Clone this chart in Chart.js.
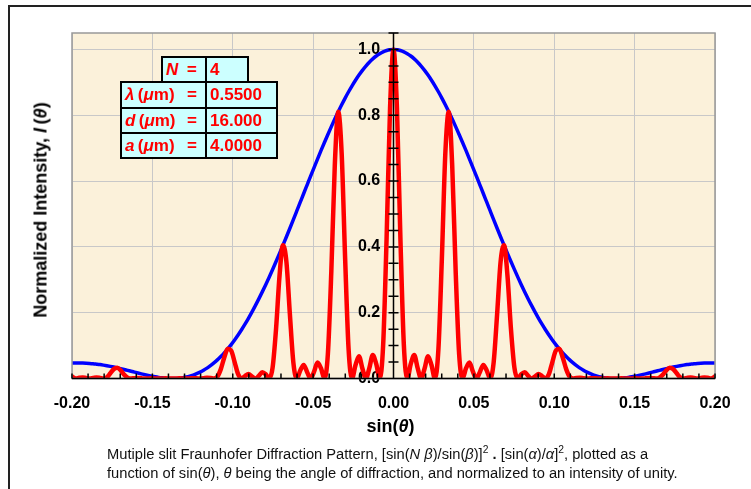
<!DOCTYPE html>
<html>
<head>
<meta charset="utf-8">
<script src="https://cdn.jsdelivr.net/npm/chart.js@4.4.1/dist/chart.umd.min.js"></script>
<style>
  body { margin: 0; background: #fff; }
  #wrap { position: relative; width: 751px; height: 489px; overflow: hidden; font-family: Arial, "Liberation Sans", sans-serif; }
  #frame { position: absolute; left: 8px; top: 5px; width: 800px; height: 600px; border-left: 2px solid #222; border-top: 2px solid #222; }
  canvas { position: absolute; left: 0; top: 0; }
  .cell { position: absolute; box-sizing: border-box; border: 2px solid #000; background: #ccffff; color: #ff0000; font-weight: bold; font-size: 17px; padding-left: 3px; white-space: nowrap; }
  .lbl { display: flex; justify-content: space-between; padding-right: 8px; }
  .ytitle { position: absolute; left: 41px; top: 210px; transform: translate(-50%, -50%) rotate(-90deg); white-space: nowrap; font-weight: bold; font-size: 18px; color: #000; }
  .xtitle { position: absolute; left: 340px; width: 101px; top: 416px; line-height: 20px; text-align: center; font-weight: bold; font-size: 18px; color: #000; }
  .caption { position: absolute; left: 107px; top: 445px; font-size: 14.7px; line-height: 19px; color: #111; white-space: nowrap; }
  sup { font-size: 0.7em; line-height: 0; vertical-align: super; }
</style>
</head>
<body>
<div id="wrap">
  <div id="frame"></div>
  <canvas id="diffractionChart" width="751" height="489"></canvas>

  <div class="cell lbl" style="left:161px; top:56px; width:46px; height:27px; line-height:23px;"><span><i>N</i></span><span>=</span></div>
  <div class="cell" style="left:205px; top:56px; width:44px; height:27px; line-height:23px;">4</div>
  <div class="cell lbl" style="left:120px; top:81px; width:87px; height:28px; line-height:24px;"><span><i>λ</i>&thinsp;(<i>μ</i>m)</span><span>=</span></div>
  <div class="cell" style="left:205px; top:81px; width:73px; height:28px; line-height:24px;">0.5500</div>
  <div class="cell lbl" style="left:120px; top:107px; width:87px; height:27px; line-height:23px;"><span><i>d</i>&thinsp;(<i>μ</i>m)</span><span>=</span></div>
  <div class="cell" style="left:205px; top:107px; width:73px; height:27px; line-height:23px;">16.000</div>
  <div class="cell lbl" style="left:120px; top:132px; width:87px; height:27px; line-height:23px;"><span><i>a</i>&thinsp;(<i>μ</i>m)</span><span>=</span></div>
  <div class="cell" style="left:205px; top:132px; width:73px; height:27px; line-height:23px;">4.0000</div>

  <div class="ytitle">Normalized Intensity, <i>I</i>&thinsp;(<i>θ</i>)</div>
  <div class="xtitle">sin(<i>θ</i>)</div>
  <div class="caption">Mutiple slit Fraunhofer Diffraction Pattern, [sin(<i>N β</i>)/sin(<i>β</i>)]<sup>2</sup> <b>.</b> [sin(<i>α</i>)/<i>α</i>]<sup>2</sup>, plotted as a<br>function of sin(<i>θ</i>), <i>θ</i> being the angle of diffraction, and normalized to an intensity of unity.</div>
</div>

<script>
// sin(theta) sample positions
const sinTheta = [
  -0.2,
  -0.19766, -0.19551, -0.19336, -0.19121, -0.18906,
  -0.18691, -0.18477, -0.18262, -0.18047, -0.17832, -0.17617, -0.17402, -0.17188,
  -0.16973, -0.16758, -0.16543, -0.16328, -0.16113, -0.15898, -0.15684, -0.15469,
  -0.15254, -0.15039, -0.14824, -0.14609, -0.14395, -0.1418, -0.13965, -0.1375,
  -0.13535, -0.1332, -0.13105, -0.12891, -0.12676, -0.12461, -0.12246, -0.12031,
  -0.11816, -0.11602, -0.11387, -0.11172, -0.10957, -0.10742, -0.10527, -0.10313,
  -0.10098, -0.09883, -0.09668, -0.09453, -0.09238, -0.09023, -0.08809, -0.08594,
  -0.08379, -0.08164, -0.07949, -0.07734, -0.0752, -0.07305, -0.0709, -0.06875,
  -0.0666, -0.06445, -0.0623, -0.06016, -0.05801, -0.05586, -0.05371, -0.05156,
  -0.04941, -0.04727, -0.04512, -0.04297, -0.04082, -0.03867, -0.03652, -0.03438,
  -0.03223, -0.03008, -0.02793, -0.02578, -0.02363, -0.02148, -0.01934, -0.01719,
  -0.01504, -0.01289, -0.01074, -0.00859, -0.00645, -0.0043, -0.00215,
  0, 0.00215, 0.0043, 0.00645, 0.00859, 0.01074, 0.01289, 0.01504,
  0.01719, 0.01934, 0.02148, 0.02363, 0.02578, 0.02793, 0.03008, 0.03223,
  0.03438, 0.03652, 0.03867, 0.04082, 0.04297, 0.04512, 0.04727, 0.04941,
  0.05156, 0.05371, 0.05586, 0.05801, 0.06016, 0.0623, 0.06445, 0.0666,
  0.06875, 0.0709, 0.07305, 0.0752, 0.07734, 0.07949, 0.08164, 0.08379,
  0.08594, 0.08809, 0.09023, 0.09238, 0.09453, 0.09668, 0.09883, 0.10098,
  0.10313, 0.10527, 0.10742, 0.10957, 0.11172, 0.11387, 0.11602, 0.11816,
  0.12031, 0.12246, 0.12461, 0.12676, 0.12891, 0.13105, 0.1332, 0.13535,
  0.1375, 0.13965, 0.1418, 0.14395, 0.14609, 0.14824, 0.15039, 0.15254,
  0.15469, 0.15684, 0.15898, 0.16113, 0.16328, 0.16543, 0.16758, 0.16973,
  0.17188, 0.17402, 0.17617, 0.17832, 0.18047, 0.18262, 0.18477, 0.18691,
  0.18906, 0.19121, 0.19336, 0.19551, 0.19766,
  0.2
];

// red: N-slit pattern (interference x diffraction)
const slitPattern = [
  0.0057,
  0, 0.0021, 0.0034, 0.0015, 0,
  0.0015, 0.0032, 0.0019, 0, 0.0039, 0.0157, 0.0285, 0.0324,
  0.0246, 0.0117, 0.0025, 0, 0.0009, 0.0012, 0.0005, 0,
  0.0003, 0.0005, 0.0002, 0, 0.0002, 0.0004, 0.0002, 0,
  0.0002, 0.0004, 0.0002, 0, 0.0003, 0.0008, 0.0005, 0,
  0.0008, 0.0023, 0.0018, 0, 0.0057, 0.0285, 0.0640, 0.0901,
  0.0847, 0.0500, 0.0134, 0, 0.0075, 0.0134, 0.0066, 0,
  0.0079, 0.0193, 0.0129, 0, 0.0336, 0.1517, 0.3122, 0.4053,
  0.3537, 0.1949, 0.0489, 0, 0.0242, 0.0412, 0.0191, 0,
  0.0208, 0.0488, 0.0313, 0, 0.0751, 0.3267, 0.6473, 0.8106,
  0.6830, 0.3637, 0.0882, 0, 0.0410, 0.0675, 0.0304, 0,
  0.0312, 0.0711, 0.0443, 0, 0.1005, 0.4254, 0.8204,
  1, 0.8204, 0.4254, 0.1005, 0, 0.0443, 0.0711, 0.0312,
  0, 0.0304, 0.0675, 0.0410, 0, 0.0882, 0.3637, 0.6830,
  0.8106, 0.6473, 0.3267, 0.0751, 0, 0.0313, 0.0488, 0.0208,
  0, 0.0191, 0.0412, 0.0242, 0, 0.0489, 0.1949, 0.3537,
  0.4053, 0.3122, 0.1517, 0.0336, 0, 0.0129, 0.0193, 0.0079,
  0, 0.0066, 0.0134, 0.0075, 0, 0.0134, 0.0500, 0.0847,
  0.0901, 0.0640, 0.0285, 0.0057, 0, 0.0018, 0.0023, 0.0008,
  0, 0.0005, 0.0008, 0.0003, 0, 0.0002, 0.0004, 0.0002,
  0, 0.0002, 0.0004, 0.0002, 0, 0.0002, 0.0005, 0.0003,
  0, 0.0005, 0.0012, 0.0009, 0, 0.0025, 0.0117, 0.0246,
  0.0324, 0.0285, 0.0157, 0.0039, 0, 0.0019, 0.0032, 0.0015,
  0, 0.0015, 0.0034, 0.0021, 0,
  0.0057
];

// blue: single slit envelope
const slitEnvelope = [
  0.0469,
  0.0472, 0.0472, 0.0469, 0.0464, 0.0457,
  0.0448, 0.0436, 0.0423, 0.0407, 0.0389, 0.0369, 0.0347, 0.0324,
  0.0300, 0.0275, 0.0248, 0.0222, 0.0195, 0.0168, 0.0142, 0.0117,
  0.0093, 0.0071, 0.0051, 0.0034, 0.0020, 0.0009, 0.0002, 0,
  0.0003, 0.0010, 0.0024, 0.0044, 0.0070, 0.0104, 0.0145, 0.0194,
  0.0251, 0.0316, 0.0390, 0.0474, 0.0566, 0.0668, 0.0780, 0.0901,
  0.1031, 0.1172, 0.1322, 0.1482, 0.1651, 0.1830, 0.2018, 0.2214,
  0.2419, 0.2632, 0.2852, 0.3080, 0.3315, 0.3556, 0.3802, 0.4053,
  0.4308, 0.4567, 0.4829, 0.5092, 0.5357, 0.5622, 0.5886, 0.6150,
  0.6411, 0.6669, 0.6924, 0.7173, 0.7417, 0.7654, 0.7884, 0.8106,
  0.8318, 0.8522, 0.8714, 0.8896, 0.9065, 0.9222, 0.9366, 0.9496,
  0.9613, 0.9714, 0.9801, 0.9872, 0.9928, 0.9968, 0.9992,
  1, 0.9992, 0.9968, 0.9928, 0.9872, 0.9801, 0.9714, 0.9613,
  0.9496, 0.9366, 0.9222, 0.9065, 0.8896, 0.8714, 0.8522, 0.8318,
  0.8106, 0.7884, 0.7654, 0.7417, 0.7173, 0.6924, 0.6669, 0.6411,
  0.6150, 0.5886, 0.5622, 0.5357, 0.5092, 0.4829, 0.4567, 0.4308,
  0.4053, 0.3802, 0.3556, 0.3315, 0.3080, 0.2852, 0.2632, 0.2419,
  0.2214, 0.2018, 0.1830, 0.1651, 0.1482, 0.1322, 0.1172, 0.1031,
  0.0901, 0.0780, 0.0668, 0.0566, 0.0474, 0.0390, 0.0316, 0.0251,
  0.0194, 0.0145, 0.0104, 0.0070, 0.0044, 0.0024, 0.0010, 0.0003,
  0, 0.0002, 0.0009, 0.0020, 0.0034, 0.0051, 0.0071, 0.0093,
  0.0117, 0.0142, 0.0168, 0.0195, 0.0222, 0.0248, 0.0275, 0.0300,
  0.0324, 0.0347, 0.0369, 0.0389, 0.0407, 0.0423, 0.0436, 0.0448,
  0.0457, 0.0464, 0.0469, 0.0472, 0.0472,
  0.0469
];

const xTickLabels = ['-0.20', '-0.15', '-0.10', '-0.05', '0.00', '0.05', '0.10', '0.15', '0.20'];
const yTickLabels = ['0.0', '0.2', '0.4', '0.6', '0.8', '1.0'];

const X_MINOR = 0.01;
const Y_MINOR = 0.05;
const TICK_FONT = { family: 'Arial, "Liberation Sans", sans-serif', size: 16, weight: 'bold' };

// plot background, frame, axes drawn over the data with small tick marks
const axisDecor = {
    id: 'axisDecor',
    beforeDraw(chart) {
        const { ctx, chartArea: a } = chart;
        ctx.save();
        ctx.fillStyle = '#fbf1da';
        ctx.fillRect(a.left, a.top, a.width, a.height);
        ctx.restore();
    },
    afterDatasetsDraw(chart) {
        const { ctx, chartArea: a, scales: { x, y } } = chart;
        const x0 = x.getPixelForValue(0);
        const y0 = y.getPixelForValue(0);
        ctx.save();
        ctx.strokeStyle = '#999';
        ctx.lineWidth = 1.5;
        ctx.strokeRect(a.left, a.top, a.width, a.height);

        ctx.strokeStyle = '#000';
        ctx.lineWidth = 1.5;
        ctx.beginPath();
        ctx.moveTo(x0, a.top);
        ctx.lineTo(x0, a.bottom);
        ctx.moveTo(a.left, y0);
        ctx.lineTo(a.right, y0);
        for (let i = -20; i <= 20; i++) {
            const px = x.getPixelForValue(i * X_MINOR);
            ctx.moveTo(px, y0);
            ctx.lineTo(px, y0 - 5);
        }
        for (let i = 0; i <= 21; i++) {
            const py = y.getPixelForValue(i * Y_MINOR);
            ctx.moveTo(x0 - 5, py);
            ctx.lineTo(x0 + 5, py);
        }
        ctx.stroke();
        ctx.restore();
    }
};

document.addEventListener('DOMContentLoaded', function () {
    const ctx = document.getElementById('diffractionChart').getContext('2d');
    new Chart(ctx, {
        type: 'line',
        data: {
            datasets: [{
                label: 'N-slit pattern',
                data: sinTheta.map((s, i) => ({ x: s, y: slitPattern[i] })),
                borderColor: '#ff0000',
                borderWidth: 4.5,
                pointRadius: 0,
                cubicInterpolationMode: 'monotone',
                order: 0
            }, {
                label: 'Single slit envelope',
                data: sinTheta.map((s, i) => ({ x: s, y: slitEnvelope[i] })),
                borderColor: '#0000ff',
                borderWidth: 3.5,
                pointRadius: 0,
                cubicInterpolationMode: 'monotone',
                order: 1
            }]
        },
        options: {
            responsive: false,
            animation: false,
            layout: { padding: { left: 72, right: 36, top: 33, bottom: 80.5 } },
            plugins: {
                legend: { display: false },
                tooltip: { enabled: false }
            },
            scales: {
                x: {
                    type: 'linear',
                    min: -0.2,
                    max: 0.2,
                    position: 'bottom',
                    afterFit(scale) { scale.height = 30; },
                    grid: { color: '#c8c8c8', lineWidth: 1, drawTicks: false },
                    border: { display: false },
                    ticks: {
                        stepSize: 0.05,
                        includeBounds: false,
                        autoSkip: false,
                        maxRotation: 0,
                        padding: 15,
                        color: '#000',
                        font: TICK_FONT,
                        callback: (v, i) => xTickLabels[i]
                    }
                },
                y: {
                    type: 'linear',
                    min: 0,
                    max: 1.05,
                    position: { x: 0 },
                    grid: { color: '#c8c8c8', lineWidth: 1, drawTicks: false },
                    border: { display: false },
                    ticks: {
                        stepSize: 0.2,
                        includeBounds: false,
                        color: '#000',
                        font: TICK_FONT,
                        // trailing spaces keep the labels clear of the centre axis
                        callback: (v, i) => yTickLabels[i] + '   '
                    }
                }
            }
        },
        plugins: [axisDecor]
    });
});
</script>
</body>
</html>
